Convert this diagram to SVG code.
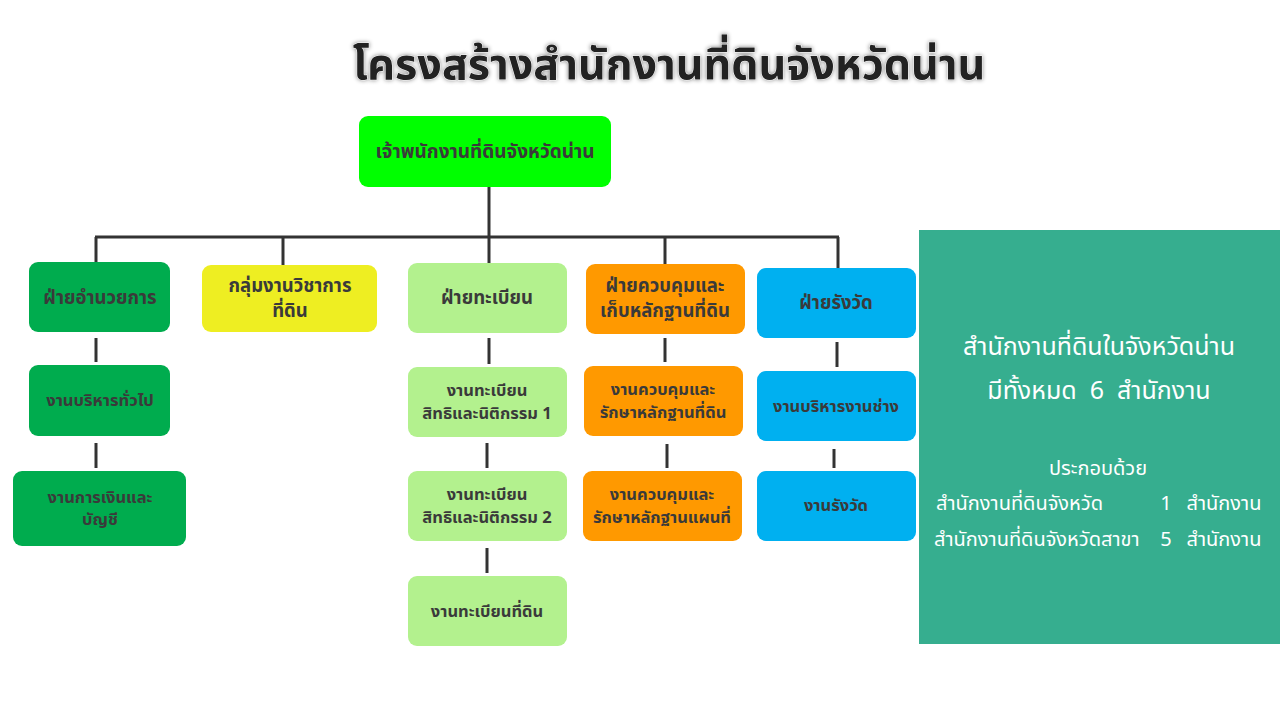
<svg xmlns="http://www.w3.org/2000/svg" width="1280" height="720" viewBox="0 0 1280 720">
<style>
.t{font-family:"Noto Sans Thai","Noto Sans","DejaVu Sans",sans-serif;font-weight:bold;fill:#3a3a3a;text-anchor:middle}
.s{font-size:16.5px}
.b{font-size:18.5px}
.w{font-family:"Noto Sans Thai","Noto Sans","DejaVu Sans",sans-serif;fill:#fff}
.m{text-anchor:middle}
.c line{stroke:#333;stroke-width:3}
</style>
<rect width="1280" height="720" fill="#fff"/>
<text x="669" y="79" class="t" style="font-size:43px;fill:#222;stroke:#fff;stroke-width:1;paint-order:stroke" filter="drop-shadow(0 0 2px #888)">โครงสร้างสำนักงานที่ดินจังหวัดน่าน</text>
<g class="c">
<line x1="489" y1="187" x2="489" y2="237"/>
<line x1="95" y1="237" x2="839" y2="237"/>
<line x1="96" y1="237" x2="96" y2="262"/>
<line x1="283" y1="237" x2="283" y2="265"/>
<line x1="489" y1="237" x2="489" y2="263"/>
<line x1="665" y1="237" x2="665" y2="264"/>
<line x1="838" y1="237" x2="838" y2="268"/>
<line x1="96" y1="338" x2="96" y2="362"/>
<line x1="96" y1="443" x2="96" y2="468"/>
<line x1="489" y1="338" x2="489" y2="364"/>
<line x1="487" y1="443" x2="487" y2="468"/>
<line x1="487" y1="548" x2="487" y2="573"/>
<line x1="665" y1="338" x2="665" y2="362"/>
<line x1="667" y1="444" x2="667" y2="468"/>
<line x1="837" y1="342" x2="837" y2="367"/>
<line x1="834" y1="449" x2="834" y2="468"/>
</g>
<g id="top"><rect x="359" y="116" width="252" height="71" rx="9" fill="#00ff00"/><text x="485" y="158" class="t" font-size="19">เจ้าพนักงานที่ดินจังหวัดน่าน</text></g>
<g id="n1"><rect x="29" y="262" width="141" height="70" rx="9" fill="#00ac4e"/><text x="100" y="304" class="t b">ฝ่ายอำนวยการ</text></g>
<g id="n2"><rect x="202" y="265" width="175" height="67" rx="9" fill="#eeee22"/><text x="290" y="292" class="t b">กลุ่มงานวิชาการ</text><text x="290" y="317" class="t b">ที่ดิน</text></g>
<g id="n3"><rect x="408" y="263" width="159" height="70" rx="9" fill="#b3f18e"/><text x="487" y="304" class="t b">ฝ่ายทะเบียน</text></g>
<g id="n4"><rect x="586" y="264" width="159" height="70" rx="9" fill="#ff9900"/><text x="665" y="292" class="t b">ฝ่ายควบคุมและ</text><text x="665" y="317" class="t b">เก็บหลักฐานที่ดิน</text></g>
<g id="n5"><rect x="757" y="268" width="159" height="70" rx="9" fill="#00b0f0"/><text x="836" y="309" class="t b">ฝ่ายรังวัด</text></g>
<g id="n6"><rect x="29" y="365" width="141" height="71" rx="9" fill="#00ac4e"/><text x="100" y="406" class="t s">งานบริหารทั่วไป</text></g>
<g id="n7"><rect x="13" y="471" width="173" height="75" rx="9" fill="#00ac4e"/><text x="100" y="503" class="t s">งานการเงินและ</text><text x="100" y="525" class="t s">บัญชี</text></g>
<g id="n8"><rect x="408" y="367" width="159" height="70" rx="9" fill="#b3f18e"/><text x="487" y="396" class="t s">งานทะเบียน</text><text x="487" y="419" class="t s">สิทธิและนิติกรรม 1</text></g>
<g id="n9"><rect x="408" y="471" width="159" height="70" rx="9" fill="#b3f18e"/><text x="487" y="500" class="t s">งานทะเบียน</text><text x="487" y="523" class="t s">สิทธิและนิติกรรม 2</text></g>
<g id="n10"><rect x="408" y="576" width="159" height="70" rx="9" fill="#b3f18e"/><text x="487" y="617" class="t s">งานทะเบียนที่ดิน</text></g>
<g id="n11"><rect x="584" y="366" width="159" height="70" rx="9" fill="#ff9900"/><text x="663" y="395" class="t s">งานควบคุมและ</text><text x="663" y="418" class="t s">รักษาหลักฐานที่ดิน</text></g>
<g id="n12"><rect x="583" y="471" width="159" height="70" rx="9" fill="#ff9900"/><text x="662" y="500" class="t s">งานควบคุมและ</text><text x="662" y="523" class="t s">รักษาหลักฐานแผนที่</text></g>
<g id="n13"><rect x="757" y="371" width="159" height="70" rx="9" fill="#00b0f0"/><text x="836" y="412" class="t s">งานบริหารงานช่าง</text></g>
<g id="n14"><rect x="757" y="471" width="159" height="70" rx="9" fill="#00b0f0"/><text x="836" y="511" class="t s">งานรังวัด</text></g>
<g id="panel"><rect x="919" y="230" width="361" height="414" fill="#36ae8f"/>
<text x="1099" y="355" class="w m" font-size="25">สำนักงานที่ดินในจังหวัดน่าน</text>
<text x="1099" y="399" class="w m" font-size="25" xml:space="preserve">มีทั้งหมด  6  สำนักงาน</text>
<text x="1098" y="475" class="w m" font-size="20">ประกอบด้วย</text>
<text x="936" y="510" class="w" font-size="20">สำนักงานที่ดินจังหวัด</text>
<text x="1166" y="510" class="w m" font-size="20">1</text>
<text x="1224" y="510" class="w m" font-size="20">สำนักงาน</text>
<text x="934" y="546" class="w" font-size="20">สำนักงานที่ดินจังหวัดสาขา</text>
<text x="1166" y="546" class="w m" font-size="20">5</text>
<text x="1224" y="546" class="w m" font-size="20">สำนักงาน</text>
</g>
</svg>
